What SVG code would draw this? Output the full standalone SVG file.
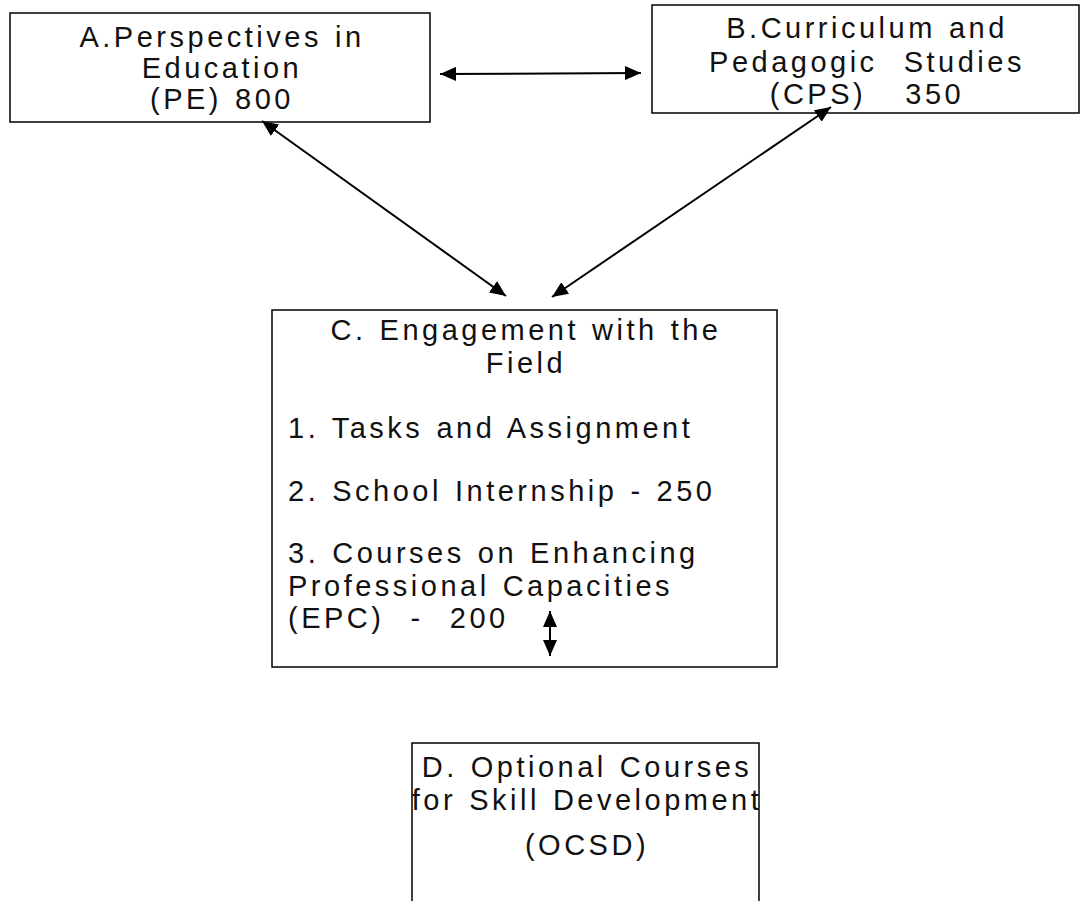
<svg xmlns="http://www.w3.org/2000/svg" width="1080" height="901" viewBox="0 0 1080 901">
  <style>
    .box { fill: #ffffff; stroke: #000000; stroke-width: 1.5; }
    .lbl { font-family: "Liberation Sans", Arial, sans-serif; font-size: 29px; letter-spacing: 3.5px; word-spacing: 1.5px; fill: #111111; }
    .mid { text-anchor: middle; }
    .link { fill: none; stroke: #000000; stroke-width: 2; marker-start: url(#head); marker-end: url(#head); }
  </style>
  <defs>
    <marker id="head" viewBox="0 0 16 14" refX="16" refY="7" markerWidth="16" markerHeight="14" markerUnits="userSpaceOnUse" orient="auto-start-reverse">
      <path d="M0,0 L16,7 L0,14 Z" fill="#000000"/>
    </marker>
  </defs>
  <rect width="1080" height="901" fill="#ffffff"/>

  <g id="node-pe">
    <rect class="box" x="10" y="13" width="420" height="109"/>
    <text class="lbl mid" x="222" y="47">A.Perspectives in</text>
    <text class="lbl mid" x="222" y="78">Education</text>
    <text class="lbl mid" x="222" y="109">(PE) 800</text>
  </g>

  <g id="node-cps">
    <rect class="box" x="652" y="5" width="427" height="108"/>
    <text class="lbl mid" x="867" y="38">B.Curriculum and</text>
    <text class="lbl mid" x="867" y="72" xml:space="preserve">Pedagogic  Studies</text>
    <text class="lbl mid" x="867" y="104" xml:space="preserve">(CPS)   350</text>
  </g>

  <g id="node-field">
    <rect class="box" x="272" y="310" width="505" height="357"/>
    <text class="lbl mid" x="526" y="340">C. Engagement with the</text>
    <text class="lbl mid" x="526" y="373">Field</text>
    <text class="lbl" x="288" y="438">1. Tasks and Assignment</text>
    <text class="lbl" x="288" y="501">2. School Internship - 250</text>
    <text class="lbl" x="288" y="563">3. Courses on Enhancing</text>
    <text class="lbl" x="288" y="596">Professional Capacities</text>
    <text class="lbl" x="288" y="628" xml:space="preserve">(EPC)  -  200</text>
  </g>

  <g id="node-ocsd">
    <rect class="box" x="412" y="743" width="347" height="170"/>
    <text class="lbl mid" x="587" y="777">D. Optional Courses</text>
    <text class="lbl mid" x="587" y="810">for Skill Development</text>
    <text class="lbl mid" x="587" y="855">(OCSD)</text>
  </g>

  <g id="connectors">
    <line class="link" x1="440" y1="74" x2="641" y2="73"/>
    <line class="link" x1="262" y1="121" x2="506" y2="296"/>
    <line class="link" x1="831" y1="107" x2="552" y2="297"/>
    <line class="link" x1="550" y1="611" x2="550" y2="656"/>
  </g>
</svg>
